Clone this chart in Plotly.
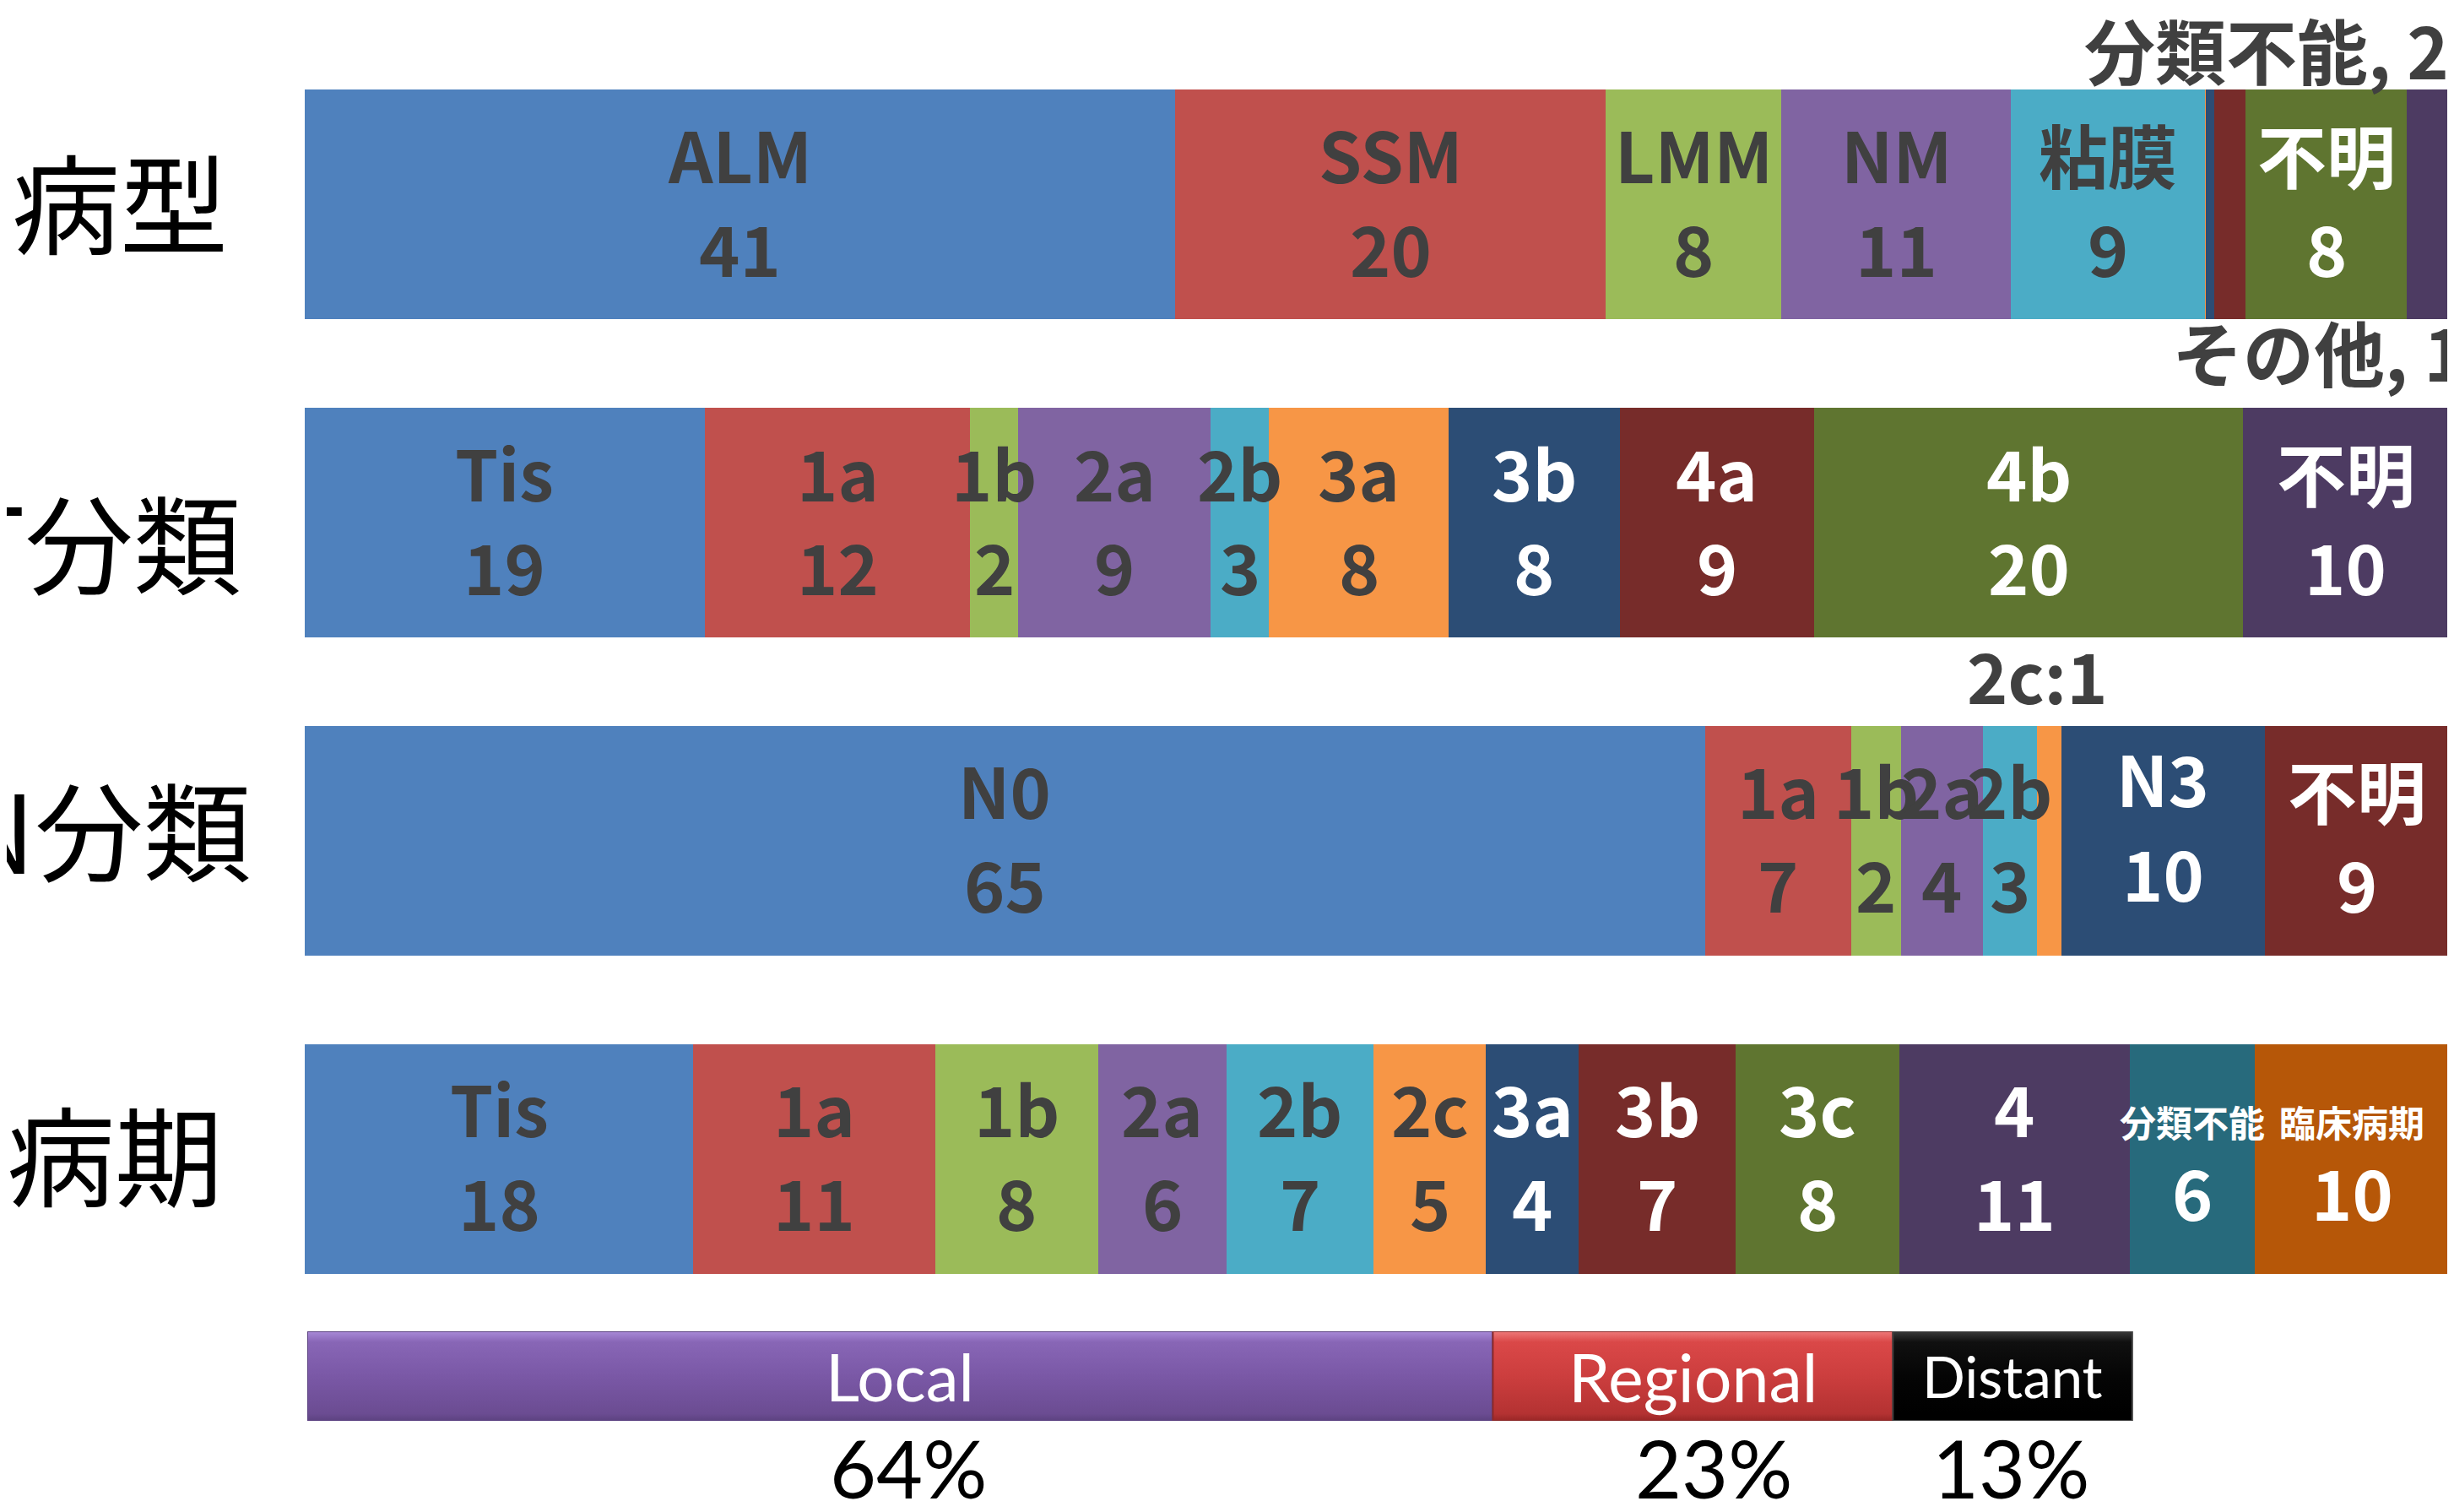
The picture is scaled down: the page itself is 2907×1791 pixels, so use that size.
import numpy as np
import plotly.graph_objects as go

# ---------------- data ----------------
rows = ["病型", "T分類", "N分類", "病期"]

# 病型 (row 1): segment names, widths, printed counts
type_names = ["ALM", "SSM", "LMM", "NM", "粘膜", "", "", "", "不明", ""]
type_values = [40.6, 20.1, 8.2, 10.7, 9.06, 0.02, 0.43, 1.43, 7.54, 1.96]
type_counts = ["41", "20", "8", "11", "9", "", "", "", "8", ""]

# T分類 (row 2)
t_names = ["Tis", "1a", "1b", "2a", "2b", "3a", "3b", "4a", "4b", "不明"]
t_values = [18.65, 12.39, 2.22, 9.0, 2.71, 8.38, 7.98, 9.08, 19.99, 9.61]
t_counts = ["19", "12", "2", "9", "3", "8", "8", "9", "20", "10"]

# N分類 (row 3)
n_names = ["N0", "1a", "1b", "2a", "2b", "", "N3", "不明"]
n_values = [65.3, 6.82, 2.31, 3.85, 2.49, 1.14, 9.49, 8.6]
n_counts = ["65", "7", "2", "4", "3", "", "10", "9"]

# 病期 (row 4)
stage_names = ["Tis", "1a", "1b", "2a", "2b", "2c", "3a", "3b", "3c", "4",
               "分類不能", "臨床病期"]
stage_values = [18.3, 11.39, 7.68, 6.07, 6.9, 5.32, 4.35, 7.42, 7.68, 10.86,
                5.91, 9.14]
stage_counts = ["18", "11", "8", "6", "7", "5", "4", "7", "8", "11", "6", "10"]

# summary bar
summary_names = ["Local", "Regional", "Distant"]
summary_width = [64.9, 21.9, 13.1]
summary_pct = ["64%", "23%", "13%"]

type_notes = ["分類不能, 2", "その他, 1"]
n_note = "2c:1"

# ---------------- styles ----------------
palette = ["#4F81BD", "#C0504D", "#9BBB59", "#8064A2", "#4BACC6", "#F79646",
           "#2C4D75", "#772C2A", "#5F7530", "#4D3B62", "#276A7C", "#B65708"]
DARK = "#404040"
BAR_FONT = "'Noto Sans CJK JP', sans-serif"
CJK = "'Noto Sans CJK JP', sans-serif"
LAT = "Lato, 'Noto Sans', sans-serif"
FS = 82

W, H = 2907, 1791
OX, OY = 8, 8  # page offset of the figure


def px(x):
    return (x - OX) / W


def py(y):
    return 1 - (y - OY) / H


row_sets = [
    (type_names, type_values, type_counts),
    (t_names, t_values, t_counts),
    (n_names, n_values, n_counts),
    (stage_names, stage_values, stage_counts),
]

fig = go.Figure()
nser = max(len(r[0]) for r in row_sets)
for k in range(nser):
    xs = [vals[k] if k < len(vals) else None for _, vals, _ in row_sets]
    fig.add_trace(go.Bar(
        x=xs, y=rows, orientation="h",
        marker=dict(color=palette[k], line=dict(width=0)),
        hoverinfo="skip", showlegend=False,
    ))

annotations = []

# in-bar labels (drawn as annotations so neighbouring bars never hide them)
for r, (names, vals, counts) in enumerate(row_sets):
    v = np.array(vals, dtype=float)
    cs = np.cumsum(v) / v.sum() * 100
    centers = cs - v / v.sum() * 100 / 2
    for k, nm in enumerate(names):
        if not nm:
            continue
        col = "white" if k >= 6 else DARK
        small = nm in ("分類不能", "臨床病期")
        name_shift, count_shift = 61, -50
        if small:
            name_shift, count_shift = 45, -38
        if r == 2 and nm == "N3":
            name_shift, count_shift = 75, -37
        annotations.append(dict(
            x=centers[k], y=r, xref="x", yref="y", text=nm, showarrow=False,
            xanchor="center", yanchor="middle", yshift=name_shift,
            font=dict(family=BAR_FONT, size=43 if small else FS, color=col,
                      weight="bold")))
        annotations.append(dict(
            x=centers[k], y=r, xref="x", yref="y", text=counts[k],
            showarrow=False, xanchor="center", yanchor="middle",
            yshift=count_shift,
            font=dict(family=BAR_FONT, size=FS, color=col, weight="bold")))

# ---------------- summary bar with gradients ----------------
grads = [
    ["#5C4280", "#6B4C92", "#7A58A6", "#8866B6", "#A98AD8"],
    ["#982626", "#B43232", "#CC3E3E", "#DA4848", "#EE7A7A"],
    ["#000000", "#000000", "#050505", "#101010", "#3A3A3A"],
]
edges = ["#5A4080", "#8C2A2A", "#404040"]
cum = np.concatenate([[0], np.cumsum(summary_width)])
for i, nm in enumerate(summary_names):
    x0, x1 = cum[i], cum[i + 1]
    g = grads[i]
    fig.add_trace(go.Scatter(
        x=[x0, x1, x1, x0, x0], y=[0, 0, 1, 1, 0], xaxis="x2", yaxis="y2",
        mode="lines", fill="toself",
        line=dict(width=2, color=edges[i]),
        fillgradient=dict(type="vertical",
                          colorscale=[[0, g[0]], [0.08, g[1]], [0.5, g[2]],
                                      [0.88, g[3]], [1, g[4]]]),
        hoverinfo="skip", showlegend=False,
    ))

summary_sizes = [78, 79, 67]
pct_shift = [10, 25, -2]
for i, nm in enumerate(summary_names):
    xc = (cum[i] + cum[i + 1]) / 2
    annotations.append(dict(x=xc, y=0.5, xref="x2", yref="y2", text=nm,
                            showarrow=False, xanchor="center", yanchor="middle",
                            font=dict(family=LAT, size=summary_sizes[i],
                                      color="white")))
    annotations.append(dict(x=xc, y=py(1738), xref="x2", yref="paper",
                            text=summary_pct[i], showarrow=False,
                            xanchor="center", yanchor="middle",
                            xshift=pct_shift[i],
                            font=dict(family=LAT, size=95, color="black")))

# row titles on the left
title_right = [272, 288, 300, 266]
title_shift = [6, -20, 16, 8]
for i, r in enumerate(rows):
    annotations.append(dict(x=px(title_right[i]), y=i, xref="paper", yref="y",
                            xanchor="right", yanchor="middle", text=r,
                            showarrow=False, yshift=title_shift[i],
                            font=dict(family=CJK, size=128, color="black")))

# notes for small segments
half = (1 - 0.278) / 2
annotations.append(dict(x=100, y=0 - half, xref="x", yref="y", xanchor="right",
                        yanchor="bottom", text=type_notes[0], showarrow=False,
                        xshift=2, yshift=-14,
                        font=dict(family=BAR_FONT, size=84, color=DARK,
                                  weight="bold")))
annotations.append(dict(x=100, y=0 + half, xref="x", yref="y", xanchor="right",
                        yanchor="top", text=type_notes[1], showarrow=False,
                        xshift=22, yshift=25,
                        font=dict(family=BAR_FONT, size=84, color=DARK,
                                  weight="bold")))
n_arr = np.array(n_values, dtype=float)
n_cum = np.cumsum(n_arr) / n_arr.sum() * 100
c2 = (n_cum[5] + n_cum[4]) / 2
annotations.append(dict(x=c2, y=2 - half, xref="x", yref="y", xanchor="center",
                        yanchor="bottom", text=n_note, showarrow=False,
                        xshift=-14,
                        font=dict(family=BAR_FONT, size=82, color=DARK,
                                  weight="bold")))

fig.update_layout(
    width=W, height=H,
    margin=dict(l=0, r=0, t=0, b=0),
    paper_bgcolor="white", plot_bgcolor="white",
    barmode="stack", barnorm="percent", bargap=0.278,
    xaxis=dict(domain=[px(361), px(2901)], range=[0, 100], visible=False,
               fixedrange=True),
    yaxis=dict(domain=[py(1561), py(54)], categoryorder="array",
               categoryarray=rows, range=[3.5, -0.5], visible=False),
    xaxis2=dict(domain=[px(364), px(2528)], range=[0, 100], visible=False,
                anchor="y2"),
    yaxis2=dict(domain=[py(1683), py(1577)], range=[0, 1],
                visible=False, anchor="x2"),
    annotations=annotations,
    showlegend=False,
)

fig.write_html("out.html")
